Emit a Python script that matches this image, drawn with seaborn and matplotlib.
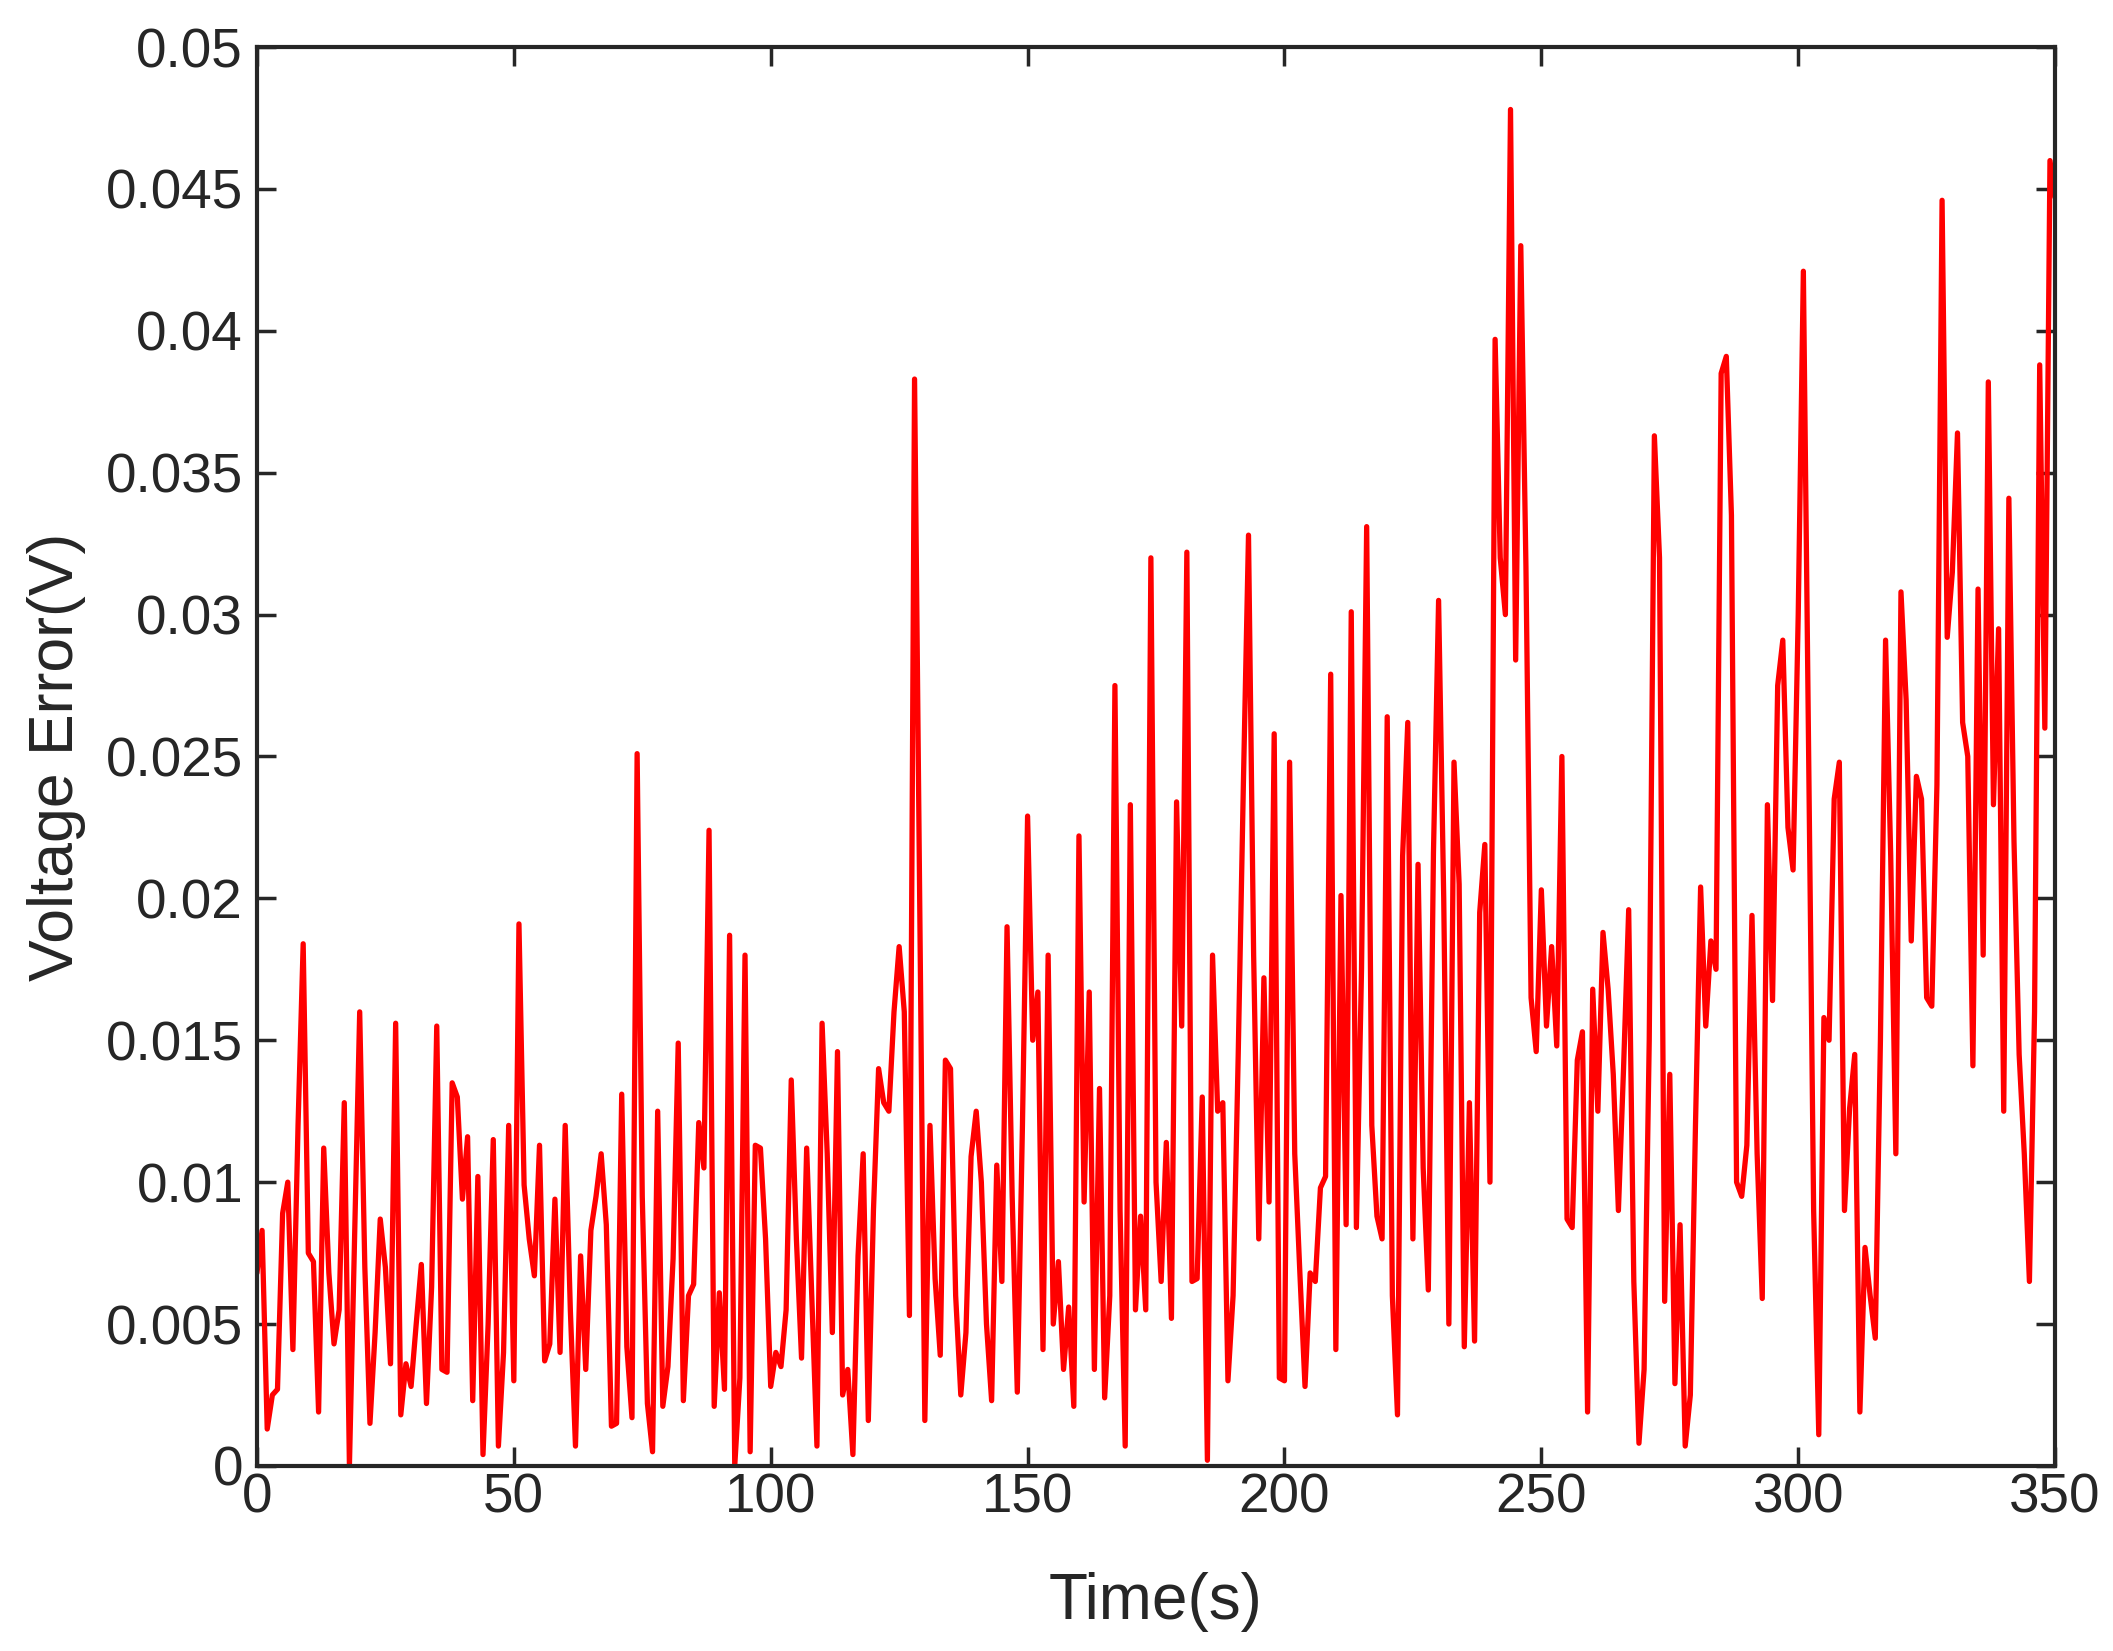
import numpy as np
import pandas as pd
import seaborn as sns
import matplotlib.pyplot as plt
from matplotlib.ticker import FuncFormatter

# voltage error, one sample per second
time_s = list(range(351))
voltage_error = [
    0.0068, 0.0083, 0.0013, 0.0025, 0.0027, 0.0089, 0.0100, 0.0041, 0.0120, 0.0184,
    0.0075, 0.0072, 0.0019, 0.0112, 0.0068, 0.0043, 0.0055, 0.0128, 0.0000, 0.0080,
    0.0160, 0.0070, 0.0015, 0.0047, 0.0087, 0.0070, 0.0036, 0.0156, 0.0018, 0.0036,
    0.0028, 0.0050, 0.0071, 0.0022, 0.0063, 0.0155, 0.0034, 0.0033, 0.0135, 0.0130,
    0.0094, 0.0116, 0.0023, 0.0102, 0.0004, 0.0050, 0.0115, 0.0007, 0.0040, 0.0120,
    0.0030, 0.0191, 0.0099, 0.0080, 0.0067, 0.0113, 0.0037, 0.0043, 0.0094, 0.0040,
    0.0120, 0.0055, 0.0007, 0.0074, 0.0034, 0.0083, 0.0095, 0.0110, 0.0085, 0.0014,
    0.0015, 0.0131, 0.0042, 0.0017, 0.0251, 0.0095, 0.0022, 0.0005, 0.0125, 0.0021,
    0.0035, 0.0073, 0.0149, 0.0023, 0.0060, 0.0064, 0.0121, 0.0105, 0.0224, 0.0021,
    0.0061, 0.0027, 0.0187, 0.0000, 0.0031, 0.0180, 0.0005, 0.0113, 0.0112, 0.0080,
    0.0028, 0.0040, 0.0035, 0.0055, 0.0136, 0.0080, 0.0038, 0.0112, 0.0060, 0.0007,
    0.0156, 0.0110, 0.0047, 0.0146, 0.0025, 0.0034, 0.0004, 0.0074, 0.0110, 0.0016,
    0.0090, 0.0140, 0.0128, 0.0125, 0.0160, 0.0183, 0.0160, 0.0053, 0.0383, 0.0200,
    0.0016, 0.0120, 0.0066, 0.0039, 0.0143, 0.0140, 0.0060, 0.0025, 0.0047, 0.0109,
    0.0125, 0.0100, 0.0050, 0.0023, 0.0106, 0.0065, 0.0190, 0.0095, 0.0026, 0.0120,
    0.0229, 0.0150, 0.0167, 0.0041, 0.0180, 0.0050, 0.0072, 0.0034, 0.0056, 0.0021,
    0.0222, 0.0093, 0.0167, 0.0034, 0.0133, 0.0024, 0.0060, 0.0275, 0.0090, 0.0007,
    0.0233, 0.0055, 0.0088, 0.0055, 0.0320, 0.0100, 0.0065, 0.0114, 0.0052, 0.0234,
    0.0155, 0.0322, 0.0065, 0.0066, 0.0130, 0.0002, 0.0180, 0.0125, 0.0128, 0.0030,
    0.0060, 0.0145, 0.0240, 0.0328, 0.0180, 0.0080, 0.0172, 0.0093, 0.0258, 0.0031,
    0.0030, 0.0248, 0.0110, 0.0068, 0.0028, 0.0068, 0.0065, 0.0098, 0.0102, 0.0279,
    0.0041, 0.0201, 0.0085, 0.0301, 0.0084, 0.0175, 0.0331, 0.0120, 0.0088, 0.0080,
    0.0264, 0.0060, 0.0018, 0.0215, 0.0262, 0.0080, 0.0212, 0.0105, 0.0062, 0.0216,
    0.0305, 0.0200, 0.0050, 0.0248, 0.0205, 0.0042, 0.0128, 0.0044, 0.0195, 0.0219,
    0.0100, 0.0397, 0.0320, 0.0300, 0.0478, 0.0284, 0.0430, 0.0317, 0.0165, 0.0146,
    0.0203, 0.0155, 0.0183, 0.0148, 0.0250, 0.0087, 0.0084, 0.0143, 0.0153, 0.0019,
    0.0168, 0.0125, 0.0188, 0.0168, 0.0138, 0.0090, 0.0140, 0.0196, 0.0065, 0.0008,
    0.0034, 0.0150, 0.0363, 0.0320, 0.0058, 0.0138, 0.0029, 0.0085, 0.0007, 0.0025,
    0.0120, 0.0204, 0.0155, 0.0185, 0.0175, 0.0385, 0.0391, 0.0335, 0.0100, 0.0095,
    0.0113, 0.0194, 0.0110, 0.0059, 0.0233, 0.0164, 0.0275, 0.0291, 0.0225, 0.0210,
    0.0300, 0.0421, 0.0255, 0.0090, 0.0011, 0.0158, 0.0150, 0.0235, 0.0248, 0.0090,
    0.0126, 0.0145, 0.0019, 0.0077, 0.0060, 0.0045, 0.0150, 0.0291, 0.0215, 0.0110,
    0.0308, 0.0270, 0.0185, 0.0243, 0.0235, 0.0165, 0.0162, 0.0240, 0.0446, 0.0292,
    0.0315, 0.0364, 0.0262, 0.0250, 0.0141, 0.0309, 0.0180, 0.0382, 0.0233, 0.0295,
    0.0125, 0.0341, 0.0220, 0.0145, 0.0110, 0.0065, 0.0160, 0.0388, 0.0260, 0.0460,
    0.0447,
]
x_ticks = [0, 50, 100, 150, 200, 250, 300, 350]
y_ticks = [0, 0.005, 0.01, 0.015, 0.02, 0.025, 0.03, 0.035, 0.04, 0.045, 0.05]

df = pd.DataFrame({'Time': time_s, 'Error': voltage_error})

sns.set_style('white')
plt.rcParams['font.family'] = ['Liberation Sans', 'DejaVu Sans']

axis_col = '#262626'
fig, ax = plt.subplots(figsize=(21.13, 16.51), dpi=100)
fig.subplots_adjust(left=0.1216, right=0.9726, top=0.9715, bottom=0.1121)

sns.lineplot(data=df, x='Time', y='Error', color='#ff0000', linewidth=3.8, ax=ax)

ax.set_xlim(0, 350)
ax.set_ylim(0, 0.05)
ax.set_xticks(x_ticks)
ax.set_yticks(y_ticks)
ax.yaxis.set_major_formatter(FuncFormatter(lambda v, p: '%g' % round(v, 4)))
ax.tick_params(direction='in', length=14, width=2.5, color=axis_col,
               labelsize=39.5, labelcolor=axis_col, top=True, right=True,
               bottom=True, left=True)
ax.tick_params(axis='x', pad=5)
ax.tick_params(axis='y', pad=10)
for s in ax.spines.values():
    s.set_visible(True)
    s.set_color(axis_col)
    s.set_linewidth(3)

ax.set_xlabel('Time(s)', fontsize=46, color=axis_col, labelpad=34)
ax.set_ylabel('Voltage Error(V)', fontsize=45, color=axis_col, labelpad=14)

fig.savefig('out.png', dpi=100, facecolor='white')
